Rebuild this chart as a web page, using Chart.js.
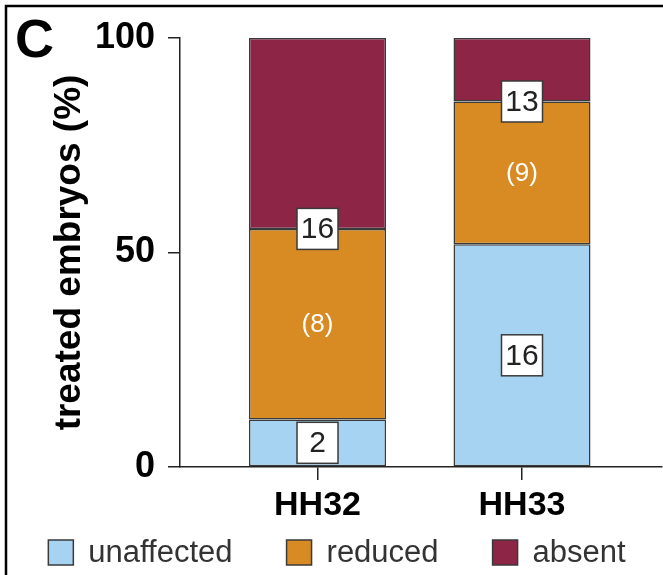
<!DOCTYPE html>
<html>
<head>
<meta charset="utf-8">
<script src="https://cdn.jsdelivr.net/npm/chart.js@4/dist/chart.umd.min.js"></script>
<style>
  html, body { margin: 0; padding: 0; background: #fff; }
  #wrap { width: 663px; height: 575px; position: relative; }
</style>
</head>
<body>
<div id="wrap"><canvas id="c" width="663" height="575"></canvas></div>
<script>
// Stage categories and outcome shares (% of treated embryos)
const categories = ['HH32', 'HH33'];
const unaffected = [11.1, 51.9];
const reduced = [44.4, 33.3];
const absent = [44.5, 14.8];

// Counts printed on the bars
const unaffectedNotes = ['2', '16'];
const reducedNotes = ['(8)', '(9)'];
const absentNotes = ['16', '13'];

// y-axis tick values
const yTicks = [0, 50, 100];

const FONT = "'Liberation Sans', Arial, Helvetica, sans-serif";
const EDGE = '#3a3a3a';

const toPoints = arr => arr.map((v, i) => ({ x: i + 1, y: v }));

// Counts on the bar segments: boxed numbers or plain white text
const notesPlugin = {
  id: 'notes',
  afterDatasetsDraw(chart) {
    const ctx = chart.ctx;
    chart.data.datasets.forEach((ds, di) => {
      const meta = chart.getDatasetMeta(di);
      meta.data.forEach((el, i) => {
        const text = ds.notes[i];
        if (!text) return;
        const top = el.y, base = el.base;
        const cy = ds.notePlace === 'base' ? base : (top + base) / 2;
        ctx.save();
        ctx.textAlign = 'center';
        ctx.textBaseline = 'middle';
        if (ds.noteBoxed) {
          const w = 41, h = 41;
          ctx.fillStyle = '#ffffff';
          ctx.fillRect(el.x - w / 2, cy - h / 2, w, h);
          ctx.lineWidth = 1.5;
          ctx.strokeStyle = EDGE;
          ctx.strokeRect(el.x - w / 2, cy - h / 2, w, h);
          ctx.fillStyle = '#222222';
          ctx.font = '30px ' + FONT;
          ctx.fillText(text, el.x, cy + 1);
        } else {
          ctx.fillStyle = '#ffffff';
          ctx.font = '26px ' + FONT;
          ctx.fillText(text, el.x, cy + 1);
        }
        ctx.restore();
      });
    });
  }
};

// Legend row, panel letter and panel frame
const decorPlugin = {
  id: 'decor',
  afterDraw(chart) {
    const ctx = chart.ctx;
    ctx.save();
    // frame
    ctx.strokeStyle = '#000';
    ctx.lineWidth = 2.5;
    ctx.beginPath();
    ctx.moveTo(6, 575);
    ctx.lineTo(6, 6);
    ctx.lineTo(663, 6);
    ctx.stroke();
    // panel letter
    ctx.fillStyle = '#000';
    ctx.font = 'bold 54px ' + FONT;
    ctx.textAlign = 'left';
    ctx.textBaseline = 'alphabetic';
    ctx.fillText('C', 15, 57);

    // legend
    const box = 25, gapText = 15, gapItem = 54, centerX = 337, cy = 552.5;
    ctx.font = '31px ' + FONT;
    const items = chart.data.datasets.map(ds => ({
      label: ds.label, color: ds.backgroundColor,
      w: box + gapText + ctx.measureText(ds.label).width
    }));
    const total = items.reduce((s, it) => s + it.w, 0) + gapItem * (items.length - 1);
    let x = centerX - total / 2;
    items.forEach(it => {
      ctx.fillStyle = it.color;
      ctx.fillRect(x, cy - box / 2, box, box);
      ctx.lineWidth = 1.5;
      ctx.strokeStyle = EDGE;
      ctx.strokeRect(x, cy - box / 2, box, box);
      ctx.fillStyle = '#333333';
      ctx.textBaseline = 'middle';
      ctx.fillText(it.label, x + box + gapText, cy + 1);
      x += it.w + gapItem;
    });
    ctx.restore();
  }
};

const commonBar = {
  borderColor: EDGE,
  borderWidth: 1.5,
  borderSkipped: false,
  categoryPercentage: 1,
  barPercentage: 0.67
};

new Chart(document.getElementById('c'), {
  type: 'bar',
  data: {
    datasets: [
      Object.assign({ label: 'unaffected', data: toPoints(unaffected), backgroundColor: '#a6d3f1',
        notes: unaffectedNotes, noteBoxed: true, notePlace: 'center' }, commonBar),
      Object.assign({ label: 'reduced', data: toPoints(reduced), backgroundColor: '#d88b23',
        notes: reducedNotes, noteBoxed: false, notePlace: 'center' }, commonBar),
      Object.assign({ label: 'absent', data: toPoints(absent), backgroundColor: '#8d2546',
        notes: absentNotes, noteBoxed: true, notePlace: 'base' }, commonBar)
    ]
  },
  options: {
    responsive: false,
    animation: false,
    layout: { padding: { top: 38, right: 1, left: 0, bottom: 0 } },
    plugins: { legend: { display: false }, tooltip: { enabled: false } },
    scales: {
      x: {
        type: 'linear',
        stacked: true,
        offset: false,
        bounds: 'data',
        min: 0.3276,
        max: 2.6846,
        afterBuildTicks: s => { s.ticks = categories.map((c, i) => ({ value: i + 1 })); },
        afterFit: s => { s.height = 108; },
        ticks: {
          callback: v => categories[v - 1],
          font: { family: FONT, size: 34, weight: 'bold' },
          color: '#000',
          padding: 5,
          maxRotation: 0
        },
        grid: { offset: false, drawOnChartArea: false, tickLength: 13, color: '#222', lineWidth: 1.5 },
        border: { color: '#222', width: 1.5 }
      },
      y: {
        stacked: true,
        min: 0,
        max: 100,
        afterBuildTicks: s => { s.ticks = yTicks.map(v => ({ value: v })); },
        afterFit: s => { s.width = 180; },
        ticks: {
          font: { family: FONT, size: 36, weight: 'bold' },
          color: '#000',
          padding: 13
        },
        grid: { drawOnChartArea: false, tickLength: 12, color: '#222', lineWidth: 1.5 },
        border: { color: '#222', width: 1.5 },
        title: {
          display: true,
          text: 'treated embryos (%)',
          font: { family: FONT, size: 37, weight: 'bold' },
          color: '#000',
          padding: { top: 48, bottom: 0 }
        }
      }
    }
  },
  plugins: [notesPlugin, decorPlugin]
});
</script>
</body>
</html>
